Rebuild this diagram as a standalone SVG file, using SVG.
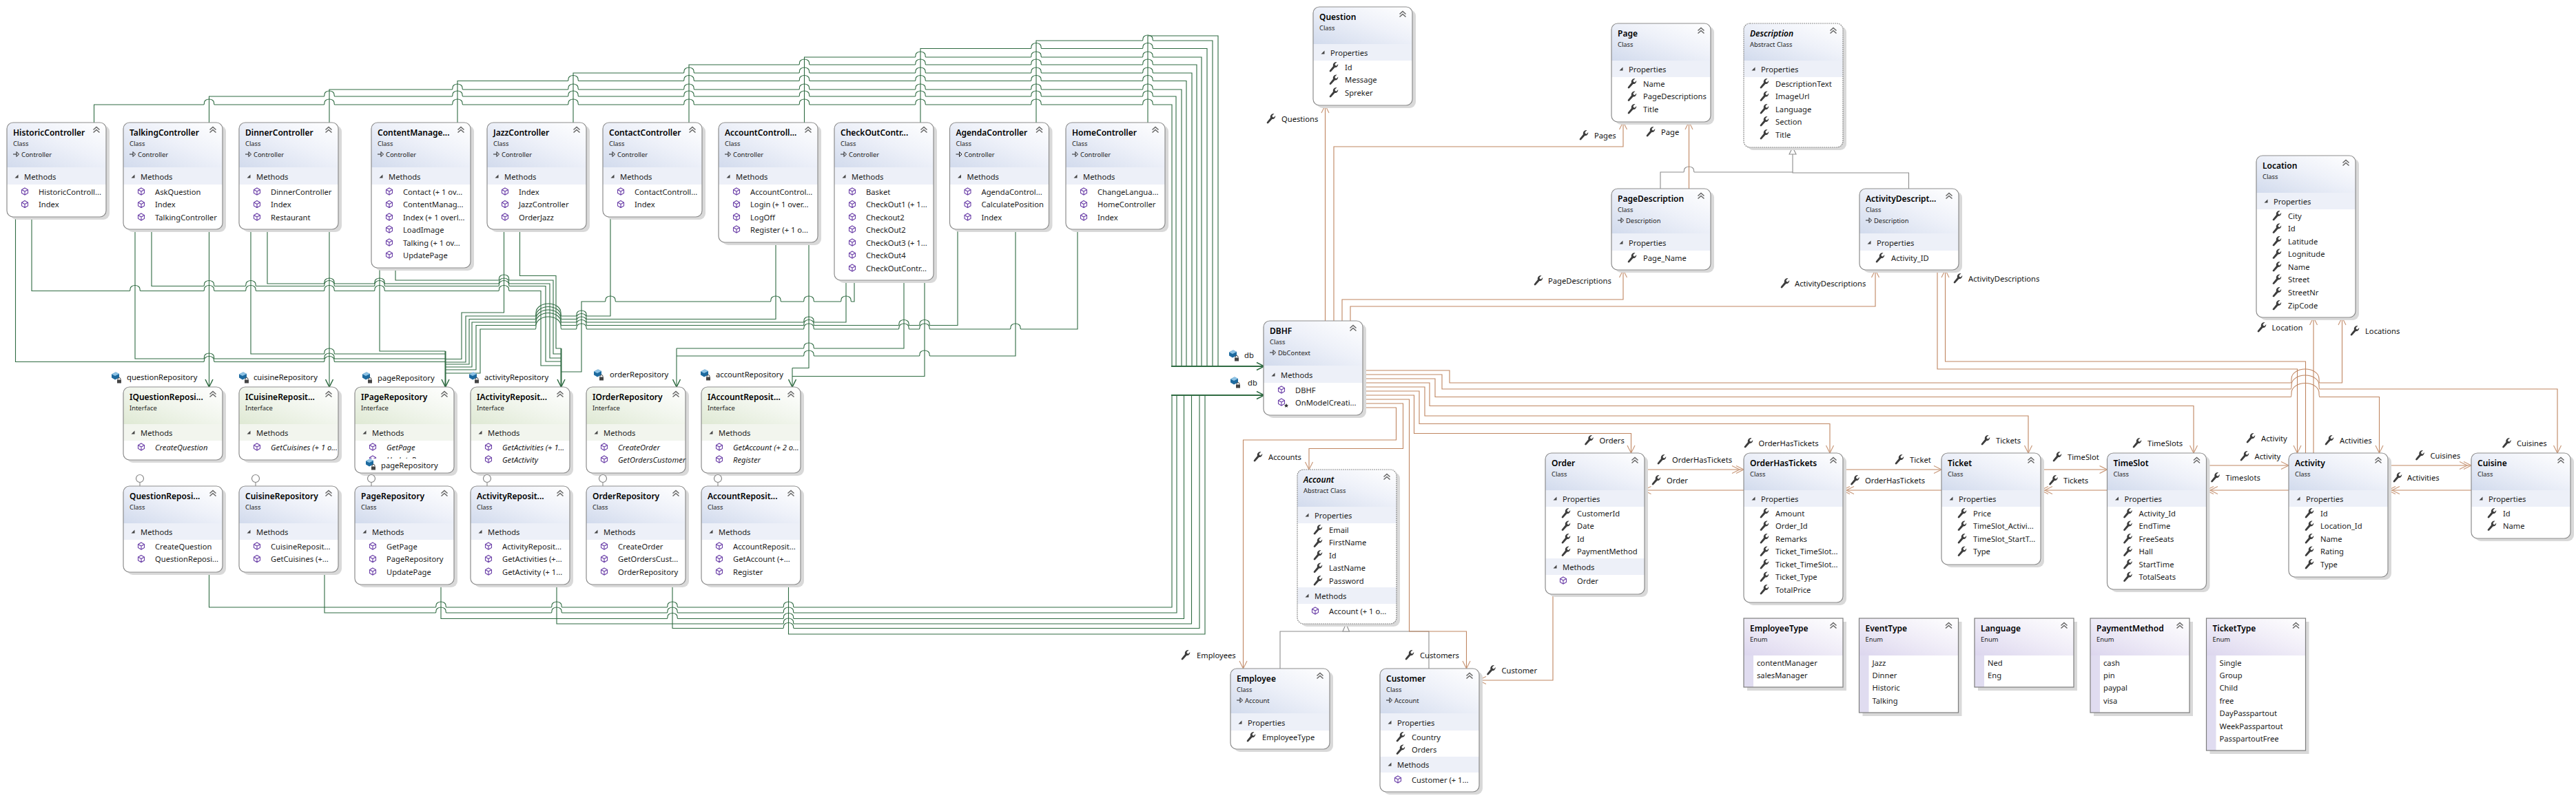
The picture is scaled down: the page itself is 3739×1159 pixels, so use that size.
<svg xmlns="http://www.w3.org/2000/svg" width="3739" height="1159" viewBox="0 0 3739 1159">
<style>
text{font-family:"Noto Sans","Open Sans","Liberation Sans",sans-serif;dominant-baseline:central;fill:#1a1a1a}
.t{font-size:12px;font-weight:600;fill:#000}
.ta{font-size:12px;font-weight:600;font-style:italic;fill:#000}
.s{font-size:9.4px;fill:#222}
.m{font-size:11.2px}
.mi{font-size:11.2px;font-style:italic}
.l{font-size:11.2px;fill:#111}
.sh{fill:#d9d9d9}
.b{fill:#fff}
.e{fill:none;stroke:#8d8d8d;stroke-width:1.2}
.ed{fill:none;stroke:#8d8d8d;stroke-width:1.2;stroke-dasharray:2 1}
.en{fill:none;stroke:#7d7d7d;stroke-width:1.2}
.hc{fill:url(#gc)}
.hi{fill:url(#gi)}
.he{fill:url(#ge)}
.bc{fill:#edf0f8}
.bi{fill:#f2f5ee}
.st{fill:#e0dcf0}
.g,.gb,.o,.y{fill:none}
.g{stroke:#2f6b42;stroke-width:1.1}
.gb{stroke:#2f6b42;stroke-width:2}
.o{stroke:#bf8560;stroke-width:1.1}
.y{stroke:#8c8c8c;stroke-width:1.1}
.tr{fill:#fff;stroke:#8c8c8c;stroke-width:1.1}
</style>
<defs>
<linearGradient id="gc" x1="0" y1="1" x2="1" y2="0"><stop offset="0" stop-color="#d2dbed"/><stop offset=".55" stop-color="#eef1f9"/><stop offset="1" stop-color="#fff"/></linearGradient>
<linearGradient id="gi" x1="0" y1="1" x2="1" y2="0"><stop offset="0" stop-color="#dfe9d4"/><stop offset=".55" stop-color="#f2f6ee"/><stop offset="1" stop-color="#fff"/></linearGradient>
<linearGradient id="ge" x1="0" y1="1" x2="1" y2="0"><stop offset="0" stop-color="#dcd6ee"/><stop offset=".55" stop-color="#f1eef8"/><stop offset="1" stop-color="#fff"/></linearGradient>
<path id="hn" d="M0 54V9a9 9 0 0 1 9-9H135a9 9 0 0 1 9 9V54Z"/>
<path id="hb" d="M0 65V9a9 9 0 0 1 9-9H135a9 9 0 0 1 9 9V65Z"/>
<g id="ch" fill="none" stroke="#666" stroke-width="1.5"><path d="M-4.5-.5L0-4.5L4.5-.5M-4.5 3.5L0-.5L4.5 3.5"/></g>
<path id="tri" d="M2.5-2.5V2.5H-2.5Z" fill="#444"/>
<g id="ba" fill="none" stroke="#222" stroke-width="1"><path d="M0 0H5M5-3.5L8.5 0L5 3.5Z"/></g>
<g id="mt" fill="#fff" stroke="#6b3fa8" stroke-width="1.1"><path d="M0-5L4.5-2.5V2.5L0 5L-4.5 2.5V-2.5ZM-4.5-2.5L0 0L4.5-2.5M0 0V5"/></g>
<path id="wr" fill="#3d3d3d" d="M5.5-7L2.5-4L3-2L5-1.5L7.2-4C7.5-1 5.5 1.2 2.5 1L-3 7C-4 8-6.2 7-5 5.2L0-1C-1-4 1.5-7.5 5.5-7Z"/>
<g id="fd"><path d="M-6-3.5L0-6.5L5-4V1.5L-1 4.5L-6 1.5Z" fill="#1d6a9f"/><path d="M-6-3.5L0-6.5L5-4L-1-1Z" fill="#8ec3e5"/><rect x="2" y="4.5" width="6" height="5" fill="#444"/><path d="M3 4.5V3.5a2 2 0 0 1 4 0V4.5" fill="none" stroke="#444"/></g>
<g id="lo"><path d="M0-11V0" stroke="#888" stroke-width="1.1" fill="none"/><circle cx="0" cy="-11" r="5.5" fill="#fff" stroke="#888" stroke-width="1.2"/></g>
<marker id="ag" viewBox="-14 -8 16 16" refX="0" refY="0" markerWidth="16" markerHeight="16" markerUnits="userSpaceOnUse" orient="auto"><path d="M-11-5.5L0 0L-11 5.5" fill="none" stroke="#2f6b42" stroke-width="1.5"/></marker>
<marker id="ao" viewBox="-14 -8 16 16" refX="0" refY="0" markerWidth="16" markerHeight="16" markerUnits="userSpaceOnUse" orient="auto"><path d="M-11-5.5L0 0L-11 5.5" fill="none" stroke="#c99a7c" stroke-width="1.2"/></marker>
<marker id="ad" viewBox="-20 -8 22 16" refX="0" refY="0" markerWidth="22" markerHeight="16" markerUnits="userSpaceOnUse" orient="auto"><path d="M-11-5.5L0 0L-11 5.5M-17-5.5L-6 0L-17 5.5" fill="none" stroke="#c99a7c" stroke-width="1.2"/></marker>
</defs>
<rect width="3739" height="1159" fill="#fff"/>
<g id="connectors">
<g id="controller-to-db">
<path class="g" d="M136.5 178V152H295.5q1 0 1-3a7 5 0 0 1 14 0q0 3 1 3H470q1 0 1-3a7 5 0 0 1 14 0q0 3 1 3H656q1 0 1-3a7 5 0 0 1 14 0q0 3 1 3H824q1 0 1-3a7 5 0 0 1 14 0q0 3 1 3H992q1 0 1-3a7 5 0 0 1 14 0q0 3 1 3H1159.5q1 0 1-3a7 5 0 0 1 14 0q0 3 1 3H1328q1 0 1-3a7 5 0 0 1 14 0q0 3 1 3H1496q1 0 1-3a7 5 0 0 1 14 0q0 3 1 3H1658q1 0 1-3a7 5 0 0 1 14 0q0 3 1 3H1701V532"/>
<path class="g" d="M303.5 178V140H470q1 0 1-3a7 5 0 0 1 14 0q0 3 1 3H656q1 0 1-3a7 5 0 0 1 14 0q0 3 1 3H824q1 0 1-3a7 5 0 0 1 14 0q0 3 1 3H992q1 0 1-3a7 5 0 0 1 14 0q0 3 1 3H1159.5q1 0 1-3a7 5 0 0 1 14 0q0 3 1 3H1328q1 0 1-3a7 5 0 0 1 14 0q0 3 1 3H1496q1 0 1-3a7 5 0 0 1 14 0q0 3 1 3H1658q1 0 1-3a7 5 0 0 1 14 0q0 3 1 3H1707V532"/>
<path class="g" d="M478 178V130H656q1 0 1-3a7 5 0 0 1 14 0q0 3 1 3H824q1 0 1-3a7 5 0 0 1 14 0q0 3 1 3H992q1 0 1-3a7 5 0 0 1 14 0q0 3 1 3H1159.5q1 0 1-3a7 5 0 0 1 14 0q0 3 1 3H1328q1 0 1-3a7 5 0 0 1 14 0q0 3 1 3H1496q1 0 1-3a7 5 0 0 1 14 0q0 3 1 3H1658q1 0 1-3a7 5 0 0 1 14 0q0 3 1 3H1715V532"/>
<path class="g" d="M664 178V117.5H824q1 0 1-3a7 5 0 0 1 14 0q0 3 1 3H992q1 0 1-3a7 5 0 0 1 14 0q0 3 1 3H1159.5q1 0 1-3a7 5 0 0 1 14 0q0 3 1 3H1328q1 0 1-3a7 5 0 0 1 14 0q0 3 1 3H1496q1 0 1-3a7 5 0 0 1 14 0q0 3 1 3H1658q1 0 1-3a7 5 0 0 1 14 0q0 3 1 3H1722V532"/>
<path class="g" d="M832 178V106H992q1 0 1-3a7 5 0 0 1 14 0q0 3 1 3H1159.5q1 0 1-3a7 5 0 0 1 14 0q0 3 1 3H1328q1 0 1-3a7 5 0 0 1 14 0q0 3 1 3H1496q1 0 1-3a7 5 0 0 1 14 0q0 3 1 3H1658q1 0 1-3a7 5 0 0 1 14 0q0 3 1 3H1730V532"/>
<path class="g" d="M1000 178V94H1159.5q1 0 1-3a7 5 0 0 1 14 0q0 3 1 3H1328q1 0 1-3a7 5 0 0 1 14 0q0 3 1 3H1496q1 0 1-3a7 5 0 0 1 14 0q0 3 1 3H1658q1 0 1-3a7 5 0 0 1 14 0q0 3 1 3H1737V532"/>
<path class="g" d="M1167.5 178V83H1328q1 0 1-3a7 5 0 0 1 14 0q0 3 1 3H1496q1 0 1-3a7 5 0 0 1 14 0q0 3 1 3H1658q1 0 1-3a7 5 0 0 1 14 0q0 3 1 3H1744V532"/>
<path class="g" d="M1336 178V70.5H1496q1 0 1-3a7 5 0 0 1 14 0q0 3 1 3H1658q1 0 1-3a7 5 0 0 1 14 0q0 3 1 3H1752V532"/>
<path class="g" d="M1504 178V59H1658q1 0 1-3a7 5 0 0 1 14 0q0 3 1 3H1760V532"/>
<path class="g" d="M1666 178V52H1768V532"/>
<path class="gb" marker-end="url(#ag)" d="M1700 532H1835"/>
</g>
<g id="controller-to-iactivity">
<path class="g" d="M46 315V422.5H188q1 0 1-3a7 5 0 0 1 14 0q0 3 1 3H295.5q1 0 1-3a7 5 0 0 1 14 0q0 3 1 3H356q1 0 1-3a7 5 0 0 1 14 0q0 3 1 3H470q1 0 1-3a7 5 0 0 1 14 0q0 3 1 3H543q1 0 1-3a7 5 0 0 1 14 0q0 3 1 3H723.5q1 0 1-3a7 5 0 0 1 14 0q0 3 1 3H785V531H814.5"/>
<path class="g" d="M220 333V415.5H295.5q1 0 1-3a7 5 0 0 1 14 0q0 3 1 3H356q1 0 1-3a7 5 0 0 1 14 0q0 3 1 3H470q1 0 1-3a7 5 0 0 1 14 0q0 3 1 3H543q1 0 1-3a7 5 0 0 1 14 0q0 3 1 3H723.5q1 0 1-3a7 5 0 0 1 14 0q0 3 1 3H792V525H814.5"/>
<path class="g" d="M388 333V412H470q1 0 1-3a7 5 0 0 1 14 0q0 3 1 3H543q1 0 1-3a7 5 0 0 1 14 0q0 3 1 3H723.5q1 0 1-3a7 5 0 0 1 14 0q0 3 1 3H798V520H814.5"/>
<path class="g" d="M574 389V407H723.5q1 0 1-3a7 5 0 0 1 14 0q0 3 1 3H803V514H814.5"/>
<path class="g" d="M754.5 333V400.5H807V506H814.5"/>
<path class="g" d="M814.5 540H844V438H878q1 0 1-3a7 5 0 0 1 14 0q0 3 1 3H1118q1 0 1-3a7 5 0 0 1 14 0q0 3 1 3H1166q1 0 1-3a7 5 0 0 1 14 0q0 3 1 3H1220q1 0 1-3a7 5 0 0 1 14 0q0 3 1 3H1240V407"/>
<path class="gb" marker-end="url(#ag)" d="M814.5 506V562"/>
</g>
<g id="controller-to-ipage">
<path class="g" d="M22.5 315V525.5H295.5q1 0 1-3a7 5 0 0 1 14 0q0 3 1 3H470q1 0 1-3a7 5 0 0 1 14 0q0 3 1 3H646.5"/>
<path class="g" d="M196 333V521H295.5q1 0 1-3a7 5 0 0 1 14 0q0 3 1 3H470q1 0 1-3a7 5 0 0 1 14 0q0 3 1 3H646.5"/>
<path class="g" d="M364 333V514H470q1 0 1-3a7 5 0 0 1 14 0q0 3 1 3H646.5"/>
<path class="g" d="M551 389V510H646.5"/>
<path class="g" d="M646.5 521.5H670V454H731.5V333"/>
<path class="g" d="M646.5 526H676V459H777q1 0 1-5a18 13 0 0 1 36 0q0 5 1 5H836q1 0 1-3a7 5 0 0 1 14 0q0 3 1 3H886V315"/>
<path class="g" d="M646.5 529H681V463.5H777q1 0 1-5a18 13 0 0 1 36 0q0 5 1 5H836q1 0 1-3a7 5 0 0 1 14 0q0 3 1 3H1126V352"/>
<path class="g" d="M646.5 533H685V468H777q1 0 1-5a18 13 0 0 1 36 0q0 5 1 5H836q1 0 1-3a7 5 0 0 1 14 0q0 3 1 3H1166q1 0 1-3a7 5 0 0 1 14 0q0 3 1 3H1228V407"/>
<path class="g" d="M646.5 537H691V472.5H777q1 0 1-5a18 13 0 0 1 36 0q0 5 1 5H836q1 0 1-3a7 5 0 0 1 14 0q0 3 1 3H1166q1 0 1-3a7 5 0 0 1 14 0q0 3 1 3H1304q1 0 1-3a7 5 0 0 1 14 0q0 3 1 3H1334q1 0 1-3a7 5 0 0 1 14 0q0 3 1 3H1390V333"/>
<path class="g" d="M646.5 542H697V478H777q1 0 1-5a18 13 0 0 1 36 0q0 5 1 5H836q1 0 1-3a7 5 0 0 1 14 0q0 3 1 3H1166q1 0 1-3a7 5 0 0 1 14 0q0 3 1 3H1304q1 0 1-3a7 5 0 0 1 14 0q0 3 1 3H1334q1 0 1-3a7 5 0 0 1 14 0q0 3 1 3H1466q1 0 1-3a7 5 0 0 1 14 0q0 3 1 3H1564V333"/>
<path class="gb" marker-end="url(#ag)" d="M646.5 510V562"/>
</g>
<g id="controller-to-others">
<path class="g" marker-end="url(#ag)" d="M303.5 333V562"/>
<path class="g" marker-end="url(#ag)" d="M478 333V562"/>
<path class="g" d="M982 506H1166q1 0 1-3a7 5 0 0 1 14 0q0 3 1 3H1312V407"/>
<path class="g" d="M982 517H1166q1 0 1-3a7 5 0 0 1 14 0q0 3 1 3H1334q1 0 1-3a7 5 0 0 1 14 0q0 3 1 3H1474V333"/>
<path class="g" marker-end="url(#ag)" d="M982 506V562"/>
<path class="g" d="M1174 352V534.5H1150"/>
<path class="g" d="M1150 546.5H1342V407"/>
<path class="g" marker-end="url(#ag)" d="M1150 534.5V562"/>
</g>
<g id="repository-to-db">
<path class="g" d="M303.5 831V882H632q1 0 1-3a7 5 0 0 1 14 0q0 3 1 3H800q1 0 1-3a7 5 0 0 1 14 0q0 3 1 3H968q1 0 1-3a7 5 0 0 1 14 0q0 3 1 3H1136.5q1 0 1-3a7 5 0 0 1 14 0q0 3 1 3H1701V574"/>
<path class="g" d="M471 831V890H632q1 0 1-3a7 5 0 0 1 14 0q0 3 1 3H800q1 0 1-3a7 5 0 0 1 14 0q0 3 1 3H968q1 0 1-3a7 5 0 0 1 14 0q0 3 1 3H1136.5q1 0 1-3a7 5 0 0 1 14 0q0 3 1 3H1708V574"/>
<path class="g" d="M640 849V898.5H968q1 0 1-3a7 5 0 0 1 14 0q0 3 1 3H1136.5q1 0 1-3a7 5 0 0 1 14 0q0 3 1 3H1718.5V574"/>
<path class="g" d="M808 849V906H1136.5q1 0 1-3a7 5 0 0 1 14 0q0 3 1 3H1729.5V574"/>
<path class="g" d="M976 849V912.5H1136.5q1 0 1-3a7 5 0 0 1 14 0q0 3 1 3H1741V574"/>
<path class="g" d="M1144.5 849V921H1749V574"/>
<path class="gb" marker-end="url(#ag)" d="M1700 574H1835"/>
</g>
<g id="inheritance">
<path class="y" d="M2410 274V250H2443.5q1 0 1-3a7 5 0 0 1 14 0q0 3 1 3H2602"/>
<path class="y" d="M2770.5 274V251H2602V224"/>
<polygon class="tr" points="2602,214 2597,224 2607,224"/>
<path class="y" d="M1858 971V917H2074V971"/>
<polygon class="tr" points="1953.7,906 1949,917 1958.5,917"/>
</g>
<g id="associations">
<path class="o" marker-end="url(#ao)" d="M1923.5 466V153"/>
<path class="o" marker-end="url(#ao)" d="M1936 466V213H2356V177"/>
<path class="o" marker-end="url(#ao)" d="M2451.5 274V177"/>
<path class="o" marker-end="url(#ao)" d="M1948 466V435H2356V392"/>
<path class="o" marker-end="url(#ao)" d="M1960 466V445H2722V392"/>
<path class="o" marker-end="url(#ao)" d="M3346.5 658V525H2823.5V392"/>
<path class="o" marker-end="url(#ao)" d="M2812 392V536H3334.5V658"/>
<path class="o" marker-end="url(#ao)" d="M3358 658V461"/>
<path class="o" marker-end="url(#ao)" d="M1978 538H2104V556H3325q1 0 1-6a20 14 0 0 1 40 0q0 6 1 6H3399.5V461"/>
<path class="o" marker-end="url(#ao)" d="M1978 544H2093V565H3325q1 0 1-6a20 14 0 0 1 40 0q0 6 1 6H3712V658"/>
<path class="o" marker-end="url(#ao)" d="M1978 550H2083V576.5H3325q1 0 1-6a20 14 0 0 1 40 0q0 6 1 6H3453.5V658"/>
<path class="o" marker-end="url(#ao)" d="M1978 556H2075V589.5H3184V658"/>
<path class="o" marker-end="url(#ao)" d="M1978 562H2068V604H2944V658"/>
<path class="o" marker-end="url(#ao)" d="M1978 568H2060V615.5H2656V658"/>
<path class="o" marker-end="url(#ao)" d="M1978 574H2052.5V629.5H2367.5V658"/>
<path class="o" marker-end="url(#ao)" d="M1978 580H2045.5V917H2128.5V971"/>
<path class="o" marker-end="url(#ao)" d="M1978 586H2036.5V651.5H1900V682"/>
<path class="o" marker-end="url(#ao)" d="M1978 592H2026.5V639H1804.5V971"/>
<path class="o" marker-end="url(#ad)" d="M2385.5 682H2531"/>
<path class="o" marker-end="url(#ao)" d="M2531 712H2385.5"/>
<path class="o" marker-end="url(#ao)" d="M2674 682H2818"/>
<path class="o" marker-end="url(#ad)" d="M2818 712H2674"/>
<path class="o" marker-end="url(#ao)" d="M2962 682H3058.5"/>
<path class="o" marker-end="url(#ad)" d="M3058.5 712H2962"/>
<path class="o" marker-end="url(#ao)" d="M3202 676H3322"/>
<path class="o" marker-end="url(#ad)" d="M3322 712H3202"/>
<path class="o" marker-end="url(#ad)" d="M3466 676H3587"/>
<path class="o" marker-end="url(#ad)" d="M3587 712H3466"/>
<path class="o" marker-end="url(#ao)" d="M2254 863V988H2146"/>
</g>
</g>
<g id="nodes">
<g id="HistoricController" transform="translate(10,178)"><rect class="sh" x="5" y="4" width="144" height="137" rx="9"/><rect class="b" width="144" height="137" rx="9"/><use href="#hb" class="hc"/><rect class="bc" y="65" width="144" height="25"/><rect class="e" width="144" height="137" rx="9"/><text class="t" x="9" y="14">HistoricController</text><use href="#ch" x="130" y="11"/><text class="s" x="9" y="30">Class</text><use href="#ba" x="9" y="46"/><text class="s" x="21" y="46">Controller</text><use href="#tri" x="14" y="78"/><text class="m" x="25" y="78">Methods</text><use href="#mt" x="26" y="100"/><text class="m" x="46" y="100">HistoricControll...</text><use href="#mt" x="26" y="118.5"/><text class="m" x="46" y="118.5">Index</text></g>
<g id="TalkingController" transform="translate(179,178)"><rect class="sh" x="5" y="4" width="144" height="155" rx="9"/><rect class="b" width="144" height="155" rx="9"/><use href="#hb" class="hc"/><rect class="bc" y="65" width="144" height="25"/><rect class="e" width="144" height="155" rx="9"/><text class="t" x="9" y="14">TalkingController</text><use href="#ch" x="130" y="11"/><text class="s" x="9" y="30">Class</text><use href="#ba" x="9" y="46"/><text class="s" x="21" y="46">Controller</text><use href="#tri" x="14" y="78"/><text class="m" x="25" y="78">Methods</text><use href="#mt" x="26" y="100"/><text class="m" x="46" y="100">AskQuestion</text><use href="#mt" x="26" y="118.5"/><text class="m" x="46" y="118.5">Index</text><use href="#mt" x="26" y="137"/><text class="m" x="46" y="137">TalkingController</text></g>
<g id="DinnerController" transform="translate(347,178)"><rect class="sh" x="5" y="4" width="144" height="155" rx="9"/><rect class="b" width="144" height="155" rx="9"/><use href="#hb" class="hc"/><rect class="bc" y="65" width="144" height="25"/><rect class="e" width="144" height="155" rx="9"/><text class="t" x="9" y="14">DinnerController</text><use href="#ch" x="130" y="11"/><text class="s" x="9" y="30">Class</text><use href="#ba" x="9" y="46"/><text class="s" x="21" y="46">Controller</text><use href="#tri" x="14" y="78"/><text class="m" x="25" y="78">Methods</text><use href="#mt" x="26" y="100"/><text class="m" x="46" y="100">DinnerController</text><use href="#mt" x="26" y="118.5"/><text class="m" x="46" y="118.5">Index</text><use href="#mt" x="26" y="137"/><text class="m" x="46" y="137">Restaurant</text></g>
<g id="ContentManagerController" transform="translate(539,178)"><rect class="sh" x="5" y="4" width="144" height="211" rx="9"/><rect class="b" width="144" height="211" rx="9"/><use href="#hb" class="hc"/><rect class="bc" y="65" width="144" height="25"/><rect class="e" width="144" height="211" rx="9"/><text class="t" x="9" y="14">ContentManage...</text><use href="#ch" x="130" y="11"/><text class="s" x="9" y="30">Class</text><use href="#ba" x="9" y="46"/><text class="s" x="21" y="46">Controller</text><use href="#tri" x="14" y="78"/><text class="m" x="25" y="78">Methods</text><use href="#mt" x="26" y="100"/><text class="m" x="46" y="100">Contact (+ 1 ov...</text><use href="#mt" x="26" y="118.5"/><text class="m" x="46" y="118.5">ContentManag...</text><use href="#mt" x="26" y="137"/><text class="m" x="46" y="137">Index (+ 1 overl...</text><use href="#mt" x="26" y="155"/><text class="m" x="46" y="155">LoadImage</text><use href="#mt" x="26" y="174"/><text class="m" x="46" y="174">Talking (+ 1 ov...</text><use href="#mt" x="26" y="192"/><text class="m" x="46" y="192">UpdatePage</text></g>
<g id="JazzController" transform="translate(707,178)"><rect class="sh" x="5" y="4" width="144" height="155" rx="9"/><rect class="b" width="144" height="155" rx="9"/><use href="#hb" class="hc"/><rect class="bc" y="65" width="144" height="25"/><rect class="e" width="144" height="155" rx="9"/><text class="t" x="9" y="14">JazzController</text><use href="#ch" x="130" y="11"/><text class="s" x="9" y="30">Class</text><use href="#ba" x="9" y="46"/><text class="s" x="21" y="46">Controller</text><use href="#tri" x="14" y="78"/><text class="m" x="25" y="78">Methods</text><use href="#mt" x="26" y="100"/><text class="m" x="46" y="100">Index</text><use href="#mt" x="26" y="118.5"/><text class="m" x="46" y="118.5">JazzController</text><use href="#mt" x="26" y="137"/><text class="m" x="46" y="137">OrderJazz</text></g>
<g id="ContactController" transform="translate(875,178)"><rect class="sh" x="5" y="4" width="144" height="137" rx="9"/><rect class="b" width="144" height="137" rx="9"/><use href="#hb" class="hc"/><rect class="bc" y="65" width="144" height="25"/><rect class="e" width="144" height="137" rx="9"/><text class="t" x="9" y="14">ContactController</text><use href="#ch" x="130" y="11"/><text class="s" x="9" y="30">Class</text><use href="#ba" x="9" y="46"/><text class="s" x="21" y="46">Controller</text><use href="#tri" x="14" y="78"/><text class="m" x="25" y="78">Methods</text><use href="#mt" x="26" y="100"/><text class="m" x="46" y="100">ContactControll...</text><use href="#mt" x="26" y="118.5"/><text class="m" x="46" y="118.5">Index</text></g>
<g id="AccountController" transform="translate(1043,178)"><rect class="sh" x="5" y="4" width="144" height="174" rx="9"/><rect class="b" width="144" height="174" rx="9"/><use href="#hb" class="hc"/><rect class="bc" y="65" width="144" height="25"/><rect class="e" width="144" height="174" rx="9"/><text class="t" x="9" y="14">AccountControll...</text><use href="#ch" x="130" y="11"/><text class="s" x="9" y="30">Class</text><use href="#ba" x="9" y="46"/><text class="s" x="21" y="46">Controller</text><use href="#tri" x="14" y="78"/><text class="m" x="25" y="78">Methods</text><use href="#mt" x="26" y="100"/><text class="m" x="46" y="100">AccountControl...</text><use href="#mt" x="26" y="118.5"/><text class="m" x="46" y="118.5">Login (+ 1 over...</text><use href="#mt" x="26" y="137"/><text class="m" x="46" y="137">LogOff</text><use href="#mt" x="26" y="155"/><text class="m" x="46" y="155">Register (+ 1 o...</text></g>
<g id="CheckOutController" transform="translate(1211,178)"><rect class="sh" x="5" y="4" width="144" height="229" rx="9"/><rect class="b" width="144" height="229" rx="9"/><use href="#hb" class="hc"/><rect class="bc" y="65" width="144" height="25"/><rect class="e" width="144" height="229" rx="9"/><text class="t" x="9" y="14">CheckOutContr...</text><use href="#ch" x="130" y="11"/><text class="s" x="9" y="30">Class</text><use href="#ba" x="9" y="46"/><text class="s" x="21" y="46">Controller</text><use href="#tri" x="14" y="78"/><text class="m" x="25" y="78">Methods</text><use href="#mt" x="26" y="100"/><text class="m" x="46" y="100">Basket</text><use href="#mt" x="26" y="118.5"/><text class="m" x="46" y="118.5">CheckOut1 (+ 1...</text><use href="#mt" x="26" y="137"/><text class="m" x="46" y="137">Checkout2</text><use href="#mt" x="26" y="155"/><text class="m" x="46" y="155">CheckOut2</text><use href="#mt" x="26" y="174"/><text class="m" x="46" y="174">CheckOut3 (+ 1...</text><use href="#mt" x="26" y="192"/><text class="m" x="46" y="192">CheckOut4</text><use href="#mt" x="26" y="211"/><text class="m" x="46" y="211">CheckOutContr...</text></g>
<g id="AgendaController" transform="translate(1378.5,178)"><rect class="sh" x="5" y="4" width="144" height="155" rx="9"/><rect class="b" width="144" height="155" rx="9"/><use href="#hb" class="hc"/><rect class="bc" y="65" width="144" height="25"/><rect class="e" width="144" height="155" rx="9"/><text class="t" x="9" y="14">AgendaController</text><use href="#ch" x="130" y="11"/><text class="s" x="9" y="30">Class</text><use href="#ba" x="9" y="46"/><text class="s" x="21" y="46">Controller</text><use href="#tri" x="14" y="78"/><text class="m" x="25" y="78">Methods</text><use href="#mt" x="26" y="100"/><text class="m" x="46" y="100">AgendaControl...</text><use href="#mt" x="26" y="118.5"/><text class="m" x="46" y="118.5">CalculatePosition</text><use href="#mt" x="26" y="137"/><text class="m" x="46" y="137">Index</text></g>
<g id="HomeController" transform="translate(1547,178)"><rect class="sh" x="5" y="4" width="144" height="155" rx="9"/><rect class="b" width="144" height="155" rx="9"/><use href="#hb" class="hc"/><rect class="bc" y="65" width="144" height="25"/><rect class="e" width="144" height="155" rx="9"/><text class="t" x="9" y="14">HomeController</text><use href="#ch" x="130" y="11"/><text class="s" x="9" y="30">Class</text><use href="#ba" x="9" y="46"/><text class="s" x="21" y="46">Controller</text><use href="#tri" x="14" y="78"/><text class="m" x="25" y="78">Methods</text><use href="#mt" x="26" y="100"/><text class="m" x="46" y="100">ChangeLangua...</text><use href="#mt" x="26" y="118.5"/><text class="m" x="46" y="118.5">HomeController</text><use href="#mt" x="26" y="137"/><text class="m" x="46" y="137">Index</text></g>

<g id="IQuestionRepository" transform="translate(179,562)"><rect class="sh" x="5" y="4" width="144" height="106" rx="9"/><rect class="b" width="144" height="106" rx="9"/><use href="#hn" class="hi"/><rect class="bi" y="54" width="144" height="24"/><rect class="e" width="144" height="106" rx="9"/><text class="t" x="9" y="14">IQuestionReposi...</text><use href="#ch" x="130" y="11"/><text class="s" x="9" y="30">Interface</text><use href="#tri" x="14" y="66"/><text class="m" x="25" y="66">Methods</text><use href="#mt" x="26" y="87"/><text class="mi" x="46" y="87">CreateQuestion</text></g>
<g id="ICuisineRepository" transform="translate(347,562)"><rect class="sh" x="5" y="4" width="144" height="106" rx="9"/><rect class="b" width="144" height="106" rx="9"/><use href="#hn" class="hi"/><rect class="bi" y="54" width="144" height="24"/><rect class="e" width="144" height="106" rx="9"/><text class="t" x="9" y="14">ICuisineReposit...</text><use href="#ch" x="130" y="11"/><text class="s" x="9" y="30">Interface</text><use href="#tri" x="14" y="66"/><text class="m" x="25" y="66">Methods</text><use href="#mt" x="26" y="87"/><text class="mi" x="46" y="87">GetCuisines (+ 1 o...</text></g>
<g id="IPageRepository" transform="translate(515,562)"><rect class="sh" x="5" y="4" width="144" height="125" rx="9"/><rect class="b" width="144" height="125" rx="9"/><use href="#hn" class="hi"/><rect class="bi" y="54" width="144" height="24"/><rect class="e" width="144" height="125" rx="9"/><text class="t" x="9" y="14">IPageRepository</text><use href="#ch" x="130" y="11"/><text class="s" x="9" y="30">Interface</text><use href="#tri" x="14" y="66"/><text class="m" x="25" y="66">Methods</text><use href="#mt" x="26" y="87"/><text class="mi" x="46" y="87">GetPage</text><use href="#mt" x="26" y="105"/><text class="mi" x="46" y="105">UpdatePage</text></g>
<g id="IActivityRepository" transform="translate(683,562)"><rect class="sh" x="5" y="4" width="144" height="125" rx="9"/><rect class="b" width="144" height="125" rx="9"/><use href="#hn" class="hi"/><rect class="bi" y="54" width="144" height="24"/><rect class="e" width="144" height="125" rx="9"/><text class="t" x="9" y="14">IActivityReposit...</text><use href="#ch" x="130" y="11"/><text class="s" x="9" y="30">Interface</text><use href="#tri" x="14" y="66"/><text class="m" x="25" y="66">Methods</text><use href="#mt" x="26" y="87"/><text class="mi" x="46" y="87">GetActivities (+ 1...</text><use href="#mt" x="26" y="105"/><text class="mi" x="46" y="105">GetActivity</text></g>
<g id="IOrderRepository" transform="translate(851,562)"><rect class="sh" x="5" y="4" width="144" height="125" rx="9"/><rect class="b" width="144" height="125" rx="9"/><use href="#hn" class="hi"/><rect class="bi" y="54" width="144" height="24"/><rect class="e" width="144" height="125" rx="9"/><text class="t" x="9" y="14">IOrderRepository</text><use href="#ch" x="130" y="11"/><text class="s" x="9" y="30">Interface</text><use href="#tri" x="14" y="66"/><text class="m" x="25" y="66">Methods</text><use href="#mt" x="26" y="87"/><text class="mi" x="46" y="87">CreateOrder</text><use href="#mt" x="26" y="105"/><text class="mi" x="46" y="105">GetOrdersCustomer</text></g>
<g id="IAccountRepository" transform="translate(1018,562)"><rect class="sh" x="5" y="4" width="144" height="125" rx="9"/><rect class="b" width="144" height="125" rx="9"/><use href="#hn" class="hi"/><rect class="bi" y="54" width="144" height="24"/><rect class="e" width="144" height="125" rx="9"/><text class="t" x="9" y="14">IAccountReposit...</text><use href="#ch" x="130" y="11"/><text class="s" x="9" y="30">Interface</text><use href="#tri" x="14" y="66"/><text class="m" x="25" y="66">Methods</text><use href="#mt" x="26" y="87"/><text class="mi" x="46" y="87">GetAccount (+ 2 o...</text><use href="#mt" x="26" y="105"/><text class="mi" x="46" y="105">Register</text></g>

<g id="QuestionRepository" transform="translate(179,706)"><use href="#lo" x="24"/><rect class="sh" x="5" y="4" width="144" height="125" rx="9"/><rect class="b" width="144" height="125" rx="9"/><use href="#hn" class="hc"/><rect class="bc" y="54" width="144" height="24"/><rect class="e" width="144" height="125" rx="9"/><text class="t" x="9" y="14">QuestionReposi...</text><use href="#ch" x="130" y="11"/><text class="s" x="9" y="30">Class</text><use href="#tri" x="14" y="66"/><text class="m" x="25" y="66">Methods</text><use href="#mt" x="26" y="87"/><text class="m" x="46" y="87">CreateQuestion</text><use href="#mt" x="26" y="105.5"/><text class="m" x="46" y="105.5">QuestionReposi...</text></g>
<g id="CuisineRepository" transform="translate(347,706)"><use href="#lo" x="24"/><rect class="sh" x="5" y="4" width="144" height="125" rx="9"/><rect class="b" width="144" height="125" rx="9"/><use href="#hn" class="hc"/><rect class="bc" y="54" width="144" height="24"/><rect class="e" width="144" height="125" rx="9"/><text class="t" x="9" y="14">CuisineRepository</text><use href="#ch" x="130" y="11"/><text class="s" x="9" y="30">Class</text><use href="#tri" x="14" y="66"/><text class="m" x="25" y="66">Methods</text><use href="#mt" x="26" y="87"/><text class="m" x="46" y="87">CuisineReposit...</text><use href="#mt" x="26" y="105.5"/><text class="m" x="46" y="105.5">GetCuisines (+...</text></g>
<g id="PageRepository" transform="translate(515,706)"><use href="#lo" x="24"/><rect class="sh" x="5" y="4" width="144" height="143" rx="9"/><rect class="b" width="144" height="143" rx="9"/><use href="#hn" class="hc"/><rect class="bc" y="54" width="144" height="24"/><rect class="e" width="144" height="143" rx="9"/><text class="t" x="9" y="14">PageRepository</text><use href="#ch" x="130" y="11"/><text class="s" x="9" y="30">Class</text><use href="#tri" x="14" y="66"/><text class="m" x="25" y="66">Methods</text><use href="#mt" x="26" y="87"/><text class="m" x="46" y="87">GetPage</text><use href="#mt" x="26" y="105.5"/><text class="m" x="46" y="105.5">PageRepository</text><use href="#mt" x="26" y="124"/><text class="m" x="46" y="124">UpdatePage</text></g>
<g id="ActivityRepository" transform="translate(683,706)"><use href="#lo" x="24"/><rect class="sh" x="5" y="4" width="144" height="143" rx="9"/><rect class="b" width="144" height="143" rx="9"/><use href="#hn" class="hc"/><rect class="bc" y="54" width="144" height="24"/><rect class="e" width="144" height="143" rx="9"/><text class="t" x="9" y="14">ActivityReposit...</text><use href="#ch" x="130" y="11"/><text class="s" x="9" y="30">Class</text><use href="#tri" x="14" y="66"/><text class="m" x="25" y="66">Methods</text><use href="#mt" x="26" y="87"/><text class="m" x="46" y="87">ActivityReposit...</text><use href="#mt" x="26" y="105.5"/><text class="m" x="46" y="105.5">GetActivities (+...</text><use href="#mt" x="26" y="124"/><text class="m" x="46" y="124">GetActivity (+ 1...</text></g>
<g id="OrderRepository" transform="translate(851,706)"><use href="#lo" x="24"/><rect class="sh" x="5" y="4" width="144" height="143" rx="9"/><rect class="b" width="144" height="143" rx="9"/><use href="#hn" class="hc"/><rect class="bc" y="54" width="144" height="24"/><rect class="e" width="144" height="143" rx="9"/><text class="t" x="9" y="14">OrderRepository</text><use href="#ch" x="130" y="11"/><text class="s" x="9" y="30">Class</text><use href="#tri" x="14" y="66"/><text class="m" x="25" y="66">Methods</text><use href="#mt" x="26" y="87"/><text class="m" x="46" y="87">CreateOrder</text><use href="#mt" x="26" y="105.5"/><text class="m" x="46" y="105.5">GetOrdersCust...</text><use href="#mt" x="26" y="124"/><text class="m" x="46" y="124">OrderRepository</text></g>
<g id="AccountRepository" transform="translate(1018,706)"><use href="#lo" x="24"/><rect class="sh" x="5" y="4" width="144" height="143" rx="9"/><rect class="b" width="144" height="143" rx="9"/><use href="#hn" class="hc"/><rect class="bc" y="54" width="144" height="24"/><rect class="e" width="144" height="143" rx="9"/><text class="t" x="9" y="14">AccountReposit...</text><use href="#ch" x="130" y="11"/><text class="s" x="9" y="30">Class</text><use href="#tri" x="14" y="66"/><text class="m" x="25" y="66">Methods</text><use href="#mt" x="26" y="87"/><text class="m" x="46" y="87">AccountReposit...</text><use href="#mt" x="26" y="105.5"/><text class="m" x="46" y="105.5">GetAccount (+...</text><use href="#mt" x="26" y="124"/><text class="m" x="46" y="124">Register</text></g>

<g id="DBHF" transform="translate(1834,466)"><rect class="sh" x="5" y="4" width="144" height="137" rx="9"/><rect class="b" width="144" height="137" rx="9"/><use href="#hb" class="hc"/><rect class="bc" y="65" width="144" height="25"/><rect class="e" width="144" height="137" rx="9"/><text class="t" x="9" y="14">DBHF</text><use href="#ch" x="130" y="11"/><text class="s" x="9" y="30">Class</text><use href="#ba" x="9" y="46"/><text class="s" x="21" y="46">DbContext</text><use href="#tri" x="14" y="78"/><text class="m" x="25" y="78">Methods</text><use href="#mt" x="26" y="100"/><text class="m" x="46" y="100">DBHF</text><use href="#mt" x="26" y="118"/><path d="M33 120l1 2 2 .3-1.500 1.400.4 2-1.900-1-1.900 1 .4-2-1.500-1.400 2-.3Z" fill="#333"/><text class="m" x="46" y="118">OnModelCreati...</text></g>
<g id="Question" transform="translate(1906,10)"><rect class="sh" x="5" y="4" width="144" height="143" rx="9"/><rect class="b" width="144" height="143" rx="9"/><use href="#hn" class="hc"/><rect class="bc" y="54" width="144" height="24"/><rect class="e" width="144" height="143" rx="9"/><text class="t" x="9" y="14">Question</text><use href="#ch" x="130" y="11"/><text class="s" x="9" y="30">Class</text><use href="#tri" x="14" y="66"/><text class="m" x="25" y="66">Properties</text><use href="#wr" x="29" y="87"/><text class="m" x="46" y="87">Id</text><use href="#wr" x="29" y="105.500"/><text class="m" x="46" y="105.500">Message</text><use href="#wr" x="29" y="124"/><text class="m" x="46" y="124">Spreker</text></g>
<g id="Page" transform="translate(2339,34)"><rect class="sh" x="5" y="4" width="144" height="143" rx="9"/><rect class="b" width="144" height="143" rx="9"/><use href="#hn" class="hc"/><rect class="bc" y="54" width="144" height="24"/><rect class="e" width="144" height="143" rx="9"/><text class="t" x="9" y="14">Page</text><use href="#ch" x="130" y="11"/><text class="s" x="9" y="30">Class</text><use href="#tri" x="14" y="66"/><text class="m" x="25" y="66">Properties</text><use href="#wr" x="29" y="87"/><text class="m" x="46" y="87">Name</text><use href="#wr" x="29" y="105.500"/><text class="m" x="46" y="105.500">PageDescriptions</text><use href="#wr" x="29" y="124"/><text class="m" x="46" y="124">Title</text></g>
<g id="Description" transform="translate(2531,34)"><rect class="sh" x="5" y="4" width="144" height="180" rx="9"/><rect class="b" width="144" height="180" rx="9"/><use href="#hn" class="hc"/><rect class="bc" y="54" width="144" height="24"/><rect class="ed" width="144" height="180" rx="9"/><text class="ta" x="9" y="14">Description</text><use href="#ch" x="130" y="11"/><text class="s" x="9" y="30">Abstract Class</text><use href="#tri" x="14" y="66"/><text class="m" x="25" y="66">Properties</text><use href="#wr" x="29" y="87"/><text class="m" x="46" y="87">DescriptionText</text><use href="#wr" x="29" y="105.500"/><text class="m" x="46" y="105.500">ImageUrl</text><use href="#wr" x="29" y="124"/><text class="m" x="46" y="124">Language</text><use href="#wr" x="29" y="142"/><text class="m" x="46" y="142">Section</text><use href="#wr" x="29" y="161"/><text class="m" x="46" y="161">Title</text></g>
<g id="PageDescription" transform="translate(2339,274)"><rect class="sh" x="5" y="4" width="144" height="118" rx="9"/><rect class="b" width="144" height="118" rx="9"/><use href="#hb" class="hc"/><rect class="bc" y="65" width="144" height="25"/><rect class="e" width="144" height="118" rx="9"/><text class="t" x="9" y="14">PageDescription</text><use href="#ch" x="130" y="11"/><text class="s" x="9" y="30">Class</text><use href="#ba" x="9" y="46"/><text class="s" x="21" y="46">Description</text><use href="#tri" x="14" y="78"/><text class="m" x="25" y="78">Properties</text><use href="#wr" x="29" y="100"/><text class="m" x="46" y="100">Page_Name</text></g>
<g id="ActivityDescription" transform="translate(2699,274)"><rect class="sh" x="5" y="4" width="144" height="118" rx="9"/><rect class="b" width="144" height="118" rx="9"/><use href="#hb" class="hc"/><rect class="bc" y="65" width="144" height="25"/><rect class="e" width="144" height="118" rx="9"/><text class="t" x="9" y="14">ActivityDescript...</text><use href="#ch" x="130" y="11"/><text class="s" x="9" y="30">Class</text><use href="#ba" x="9" y="46"/><text class="s" x="21" y="46">Description</text><use href="#tri" x="14" y="78"/><text class="m" x="25" y="78">Properties</text><use href="#wr" x="29" y="100"/><text class="m" x="46" y="100">Activity_ID</text></g>
<g id="Location" transform="translate(3275,226)"><rect class="sh" x="5" y="4" width="144" height="235" rx="9"/><rect class="b" width="144" height="235" rx="9"/><use href="#hn" class="hc"/><rect class="bc" y="54" width="144" height="24"/><rect class="e" width="144" height="235" rx="9"/><text class="t" x="9" y="14">Location</text><use href="#ch" x="130" y="11"/><text class="s" x="9" y="30">Class</text><use href="#tri" x="14" y="66"/><text class="m" x="25" y="66">Properties</text><use href="#wr" x="29" y="87"/><text class="m" x="46" y="87">City</text><use href="#wr" x="29" y="105.500"/><text class="m" x="46" y="105.500">Id</text><use href="#wr" x="29" y="124"/><text class="m" x="46" y="124">Latitude</text><use href="#wr" x="29" y="142.500"/><text class="m" x="46" y="142.500">Lognitude</text><use href="#wr" x="29" y="161"/><text class="m" x="46" y="161">Name</text><use href="#wr" x="29" y="179.500"/><text class="m" x="46" y="179.500">Street</text><use href="#wr" x="29" y="198"/><text class="m" x="46" y="198">StreetNr</text><use href="#wr" x="29" y="217"/><text class="m" x="46" y="217">ZipCode</text></g>
<g id="Account" transform="translate(1883,682)"><rect class="sh" x="5" y="4" width="144" height="224" rx="9"/><rect class="b" width="144" height="224" rx="9"/><use href="#hn" class="hc"/><rect class="bc" y="54" width="144" height="24"/><rect class="bc" y="171" width="144" height="24"/><rect class="ed" width="144" height="224" rx="9"/><text class="ta" x="9" y="14">Account</text><use href="#ch" x="130" y="11"/><text class="s" x="9" y="30">Abstract Class</text><use href="#tri" x="14" y="66"/><text class="m" x="25" y="66">Properties</text><use href="#wr" x="29" y="87"/><text class="m" x="46" y="87">Email</text><use href="#wr" x="29" y="105.500"/><text class="m" x="46" y="105.500">FirstName</text><use href="#wr" x="29" y="124"/><text class="m" x="46" y="124">Id</text><use href="#wr" x="29" y="142.500"/><text class="m" x="46" y="142.500">LastName</text><use href="#wr" x="29" y="161"/><text class="m" x="46" y="161">Password</text><use href="#tri" x="14" y="183"/><text class="m" x="25" y="183">Methods</text><use href="#mt" x="26" y="205"/><text class="m" x="46" y="205">Account (+ 1 o...</text></g>
<g id="Employee" transform="translate(1786,971)"><rect class="sh" x="5" y="4" width="144" height="117" rx="9"/><rect class="b" width="144" height="117" rx="9"/><use href="#hb" class="hc"/><rect class="bc" y="65" width="144" height="25"/><rect class="e" width="144" height="117" rx="9"/><text class="t" x="9" y="14">Employee</text><use href="#ch" x="130" y="11"/><text class="s" x="9" y="30">Class</text><use href="#ba" x="9" y="46"/><text class="s" x="21" y="46">Account</text><use href="#tri" x="14" y="78"/><text class="m" x="25" y="78">Properties</text><use href="#wr" x="29" y="99"/><text class="m" x="46" y="99">EmployeeType</text></g>
<g id="Customer" transform="translate(2003,971)"><rect class="sh" x="5" y="4" width="144" height="179" rx="9"/><rect class="b" width="144" height="179" rx="9"/><use href="#hb" class="hc"/><rect class="bc" y="65" width="144" height="25"/><rect class="bc" y="128" width="144" height="23"/><rect class="e" width="144" height="179" rx="9"/><text class="t" x="9" y="14">Customer</text><use href="#ch" x="130" y="11"/><text class="s" x="9" y="30">Class</text><use href="#ba" x="9" y="46"/><text class="s" x="21" y="46">Account</text><use href="#tri" x="14" y="78"/><text class="m" x="25" y="78">Properties</text><use href="#wr" x="29" y="99"/><text class="m" x="46" y="99">Country</text><use href="#wr" x="29" y="117.500"/><text class="m" x="46" y="117.500">Orders</text><use href="#tri" x="14" y="139"/><text class="m" x="25" y="139">Methods</text><use href="#mt" x="26" y="161"/><text class="m" x="46" y="161">Customer (+ 1...</text></g>
<g id="Order" transform="translate(2243,658)"><rect class="sh" x="5" y="4" width="144" height="205" rx="9"/><rect class="b" width="144" height="205" rx="9"/><use href="#hn" class="hc"/><rect class="bc" y="54" width="144" height="24"/><rect class="bc" y="153" width="144" height="24"/><rect class="e" width="144" height="205" rx="9"/><text class="t" x="9" y="14">Order</text><use href="#ch" x="130" y="11"/><text class="s" x="9" y="30">Class</text><use href="#tri" x="14" y="66"/><text class="m" x="25" y="66">Properties</text><use href="#wr" x="29" y="87"/><text class="m" x="46" y="87">CustomerId</text><use href="#wr" x="29" y="105.500"/><text class="m" x="46" y="105.500">Date</text><use href="#wr" x="29" y="124"/><text class="m" x="46" y="124">Id</text><use href="#wr" x="29" y="142.500"/><text class="m" x="46" y="142.500">PaymentMethod</text><use href="#tri" x="14" y="165"/><text class="m" x="25" y="165">Methods</text><use href="#mt" x="26" y="185"/><text class="m" x="46" y="185">Order</text></g>
<g id="OrderHasTickets" transform="translate(2531,658)"><rect class="sh" x="5" y="4" width="144" height="217" rx="9"/><rect class="b" width="144" height="217" rx="9"/><use href="#hn" class="hc"/><rect class="bc" y="54" width="144" height="24"/><rect class="e" width="144" height="217" rx="9"/><text class="t" x="9" y="14">OrderHasTickets</text><use href="#ch" x="130" y="11"/><text class="s" x="9" y="30">Class</text><use href="#tri" x="14" y="66"/><text class="m" x="25" y="66">Properties</text><use href="#wr" x="29" y="87"/><text class="m" x="46" y="87">Amount</text><use href="#wr" x="29" y="105.500"/><text class="m" x="46" y="105.500">Order_Id</text><use href="#wr" x="29" y="124"/><text class="m" x="46" y="124">Remarks</text><use href="#wr" x="29" y="142.500"/><text class="m" x="46" y="142.500">Ticket_TimeSlot...</text><use href="#wr" x="29" y="161"/><text class="m" x="46" y="161">Ticket_TimeSlot...</text><use href="#wr" x="29" y="179.500"/><text class="m" x="46" y="179.500">Ticket_Type</text><use href="#wr" x="29" y="198"/><text class="m" x="46" y="198">TotalPrice</text></g>
<g id="Ticket" transform="translate(2818,658)"><rect class="sh" x="5" y="4" width="144" height="162" rx="9"/><rect class="b" width="144" height="162" rx="9"/><use href="#hn" class="hc"/><rect class="bc" y="54" width="144" height="24"/><rect class="e" width="144" height="162" rx="9"/><text class="t" x="9" y="14">Ticket</text><use href="#ch" x="130" y="11"/><text class="s" x="9" y="30">Class</text><use href="#tri" x="14" y="66"/><text class="m" x="25" y="66">Properties</text><use href="#wr" x="29" y="87"/><text class="m" x="46" y="87">Price</text><use href="#wr" x="29" y="105.500"/><text class="m" x="46" y="105.500">TimeSlot_Activi...</text><use href="#wr" x="29" y="124"/><text class="m" x="46" y="124">TimeSlot_StartT...</text><use href="#wr" x="29" y="142.500"/><text class="m" x="46" y="142.500">Type</text></g>
<g id="TimeSlot" transform="translate(3058.5,658)"><rect class="sh" x="5" y="4" width="144" height="198" rx="9"/><rect class="b" width="144" height="198" rx="9"/><use href="#hn" class="hc"/><rect class="bc" y="54" width="144" height="24"/><rect class="e" width="144" height="198" rx="9"/><text class="t" x="9" y="14">TimeSlot</text><use href="#ch" x="130" y="11"/><text class="s" x="9" y="30">Class</text><use href="#tri" x="14" y="66"/><text class="m" x="25" y="66">Properties</text><use href="#wr" x="29" y="87"/><text class="m" x="46" y="87">Activity_Id</text><use href="#wr" x="29" y="105.500"/><text class="m" x="46" y="105.500">EndTime</text><use href="#wr" x="29" y="124"/><text class="m" x="46" y="124">FreeSeats</text><use href="#wr" x="29" y="142.500"/><text class="m" x="46" y="142.500">Hall</text><use href="#wr" x="29" y="161"/><text class="m" x="46" y="161">StartTime</text><use href="#wr" x="29" y="179.500"/><text class="m" x="46" y="179.500">TotalSeats</text></g>
<g id="Activity" transform="translate(3322,658)"><rect class="sh" x="5" y="4" width="144" height="180" rx="9"/><rect class="b" width="144" height="180" rx="9"/><use href="#hn" class="hc"/><rect class="bc" y="54" width="144" height="24"/><rect class="e" width="144" height="180" rx="9"/><text class="t" x="9" y="14">Activity</text><use href="#ch" x="130" y="11"/><text class="s" x="9" y="30">Class</text><use href="#tri" x="14" y="66"/><text class="m" x="25" y="66">Properties</text><use href="#wr" x="29" y="87"/><text class="m" x="46" y="87">Id</text><use href="#wr" x="29" y="105.500"/><text class="m" x="46" y="105.500">Location_Id</text><use href="#wr" x="29" y="124"/><text class="m" x="46" y="124">Name</text><use href="#wr" x="29" y="142.500"/><text class="m" x="46" y="142.500">Rating</text><use href="#wr" x="29" y="161"/><text class="m" x="46" y="161">Type</text></g>
<g id="Cuisine" transform="translate(3587,658)"><rect class="sh" x="5" y="4" width="144" height="124" rx="9"/><rect class="b" width="144" height="124" rx="9"/><use href="#hn" class="hc"/><rect class="bc" y="54" width="144" height="24"/><rect class="e" width="144" height="124" rx="9"/><text class="t" x="9" y="14">Cuisine</text><use href="#ch" x="130" y="11"/><text class="s" x="9" y="30">Class</text><use href="#tri" x="14" y="66"/><text class="m" x="25" y="66">Properties</text><use href="#wr" x="29" y="87"/><text class="m" x="46" y="87">Id</text><use href="#wr" x="29" y="105.500"/><text class="m" x="46" y="105.500">Name</text></g>

<g id="EmployeeType" transform="translate(2531,898)"><rect class="sh" x="5" y="5" width="144" height="100"/><rect class="b" width="144" height="100"/><rect class="he" width="144" height="54"/><rect class="st" y="54" width="14" height="46"/><rect class="en" width="144" height="100"/><text class="t" x="9" y="14">EmployeeType</text><use href="#ch" x="130" y="11"/><text class="s" x="9" y="30">Enum</text><text class="m" x="19" y="64">contentManager</text><text class="m" x="19" y="82">salesManager</text></g>
<g id="EventType" transform="translate(2698.5,898)"><rect class="sh" x="5" y="5" width="144" height="137"/><rect class="b" width="144" height="137"/><rect class="he" width="144" height="54"/><rect class="st" y="54" width="14" height="83"/><rect class="en" width="144" height="137"/><text class="t" x="9" y="14">EventType</text><use href="#ch" x="130" y="11"/><text class="s" x="9" y="30">Enum</text><text class="m" x="19" y="64">Jazz</text><text class="m" x="19" y="82">Dinner</text><text class="m" x="19" y="100">Historic</text><text class="m" x="19" y="119">Talking</text></g>
<g id="Language" transform="translate(2866,898)"><rect class="sh" x="5" y="5" width="144" height="100"/><rect class="b" width="144" height="100"/><rect class="he" width="144" height="54"/><rect class="st" y="54" width="14" height="46"/><rect class="en" width="144" height="100"/><text class="t" x="9" y="14">Language</text><use href="#ch" x="130" y="11"/><text class="s" x="9" y="30">Enum</text><text class="m" x="19" y="64">Ned</text><text class="m" x="19" y="82">Eng</text></g>
<g id="PaymentMethod" transform="translate(3034,898)"><rect class="sh" x="5" y="5" width="144" height="137"/><rect class="b" width="144" height="137"/><rect class="he" width="144" height="54"/><rect class="st" y="54" width="14" height="83"/><rect class="en" width="144" height="137"/><text class="t" x="9" y="14">PaymentMethod</text><use href="#ch" x="130" y="11"/><text class="s" x="9" y="30">Enum</text><text class="m" x="19" y="64">cash</text><text class="m" x="19" y="82">pin</text><text class="m" x="19" y="100">paypal</text><text class="m" x="19" y="119">visa</text></g>
<g id="TicketType" transform="translate(3202.5,898)"><rect class="sh" x="5" y="5" width="144" height="192"/><rect class="b" width="144" height="192"/><rect class="he" width="144" height="54"/><rect class="st" y="54" width="14" height="138"/><rect class="en" width="144" height="192"/><text class="t" x="9" y="14">TicketType</text><use href="#ch" x="130" y="11"/><text class="s" x="9" y="30">Enum</text><text class="m" x="19" y="64">Single</text><text class="m" x="19" y="82">Group</text><text class="m" x="19" y="100">Child</text><text class="m" x="19" y="119">free</text><text class="m" x="19" y="137">DayPasspartout</text><text class="m" x="19" y="156">WeekPasspartout</text><text class="m" x="19" y="174">PasspartoutFree</text></g>
</g>
<g id="labels">
<use href="#fd" x="168" y="547"/><text class="l" x="184" y="547">questionRepository</text>
<use href="#fd" x="353" y="547"/><text class="l" x="368" y="547">cuisineRepository</text>
<use href="#fd" x="532" y="547"/><text class="l" x="548" y="548">pageRepository</text>
<use href="#fd" x="687" y="547"/><text class="l" x="703" y="547">activityRepository</text>
<use href="#fd" x="868" y="543"/><text class="l" x="885" y="543">orderRepository</text>
<use href="#fd" x="1023" y="543"/><text class="l" x="1039" y="543">accountRepository</text>
<rect x="526" y="666" width="124" height="19" fill="#fff"/>
<use href="#fd" x="537" y="673"/><text class="l" x="553" y="675">pageRepository</text>
<use href="#fd" x="1790" y="515"/><text class="l" x="1806" y="515">db</text>
<use href="#fd" x="1792" y="554"/><text class="l" x="1811" y="555">db</text>
<use href="#wr" x="1844" y="172"/><text class="l" x="1860" y="172">Questions</text>
<use href="#wr" x="2298" y="196"/><text class="l" x="2314" y="196">Pages</text>
<use href="#wr" x="2395" y="191"/><text class="l" x="2411" y="191">Page</text>
<use href="#wr" x="2232" y="407"/><text class="l" x="2247" y="407">PageDescriptions</text>
<use href="#wr" x="2590" y="411"/><text class="l" x="2605" y="411">ActivityDescriptions</text>
<use href="#wr" x="2841" y="404"/><text class="l" x="2857" y="404">ActivityDescriptions</text>
<use href="#wr" x="3282" y="475"/><text class="l" x="3297.500" y="475">Location</text>
<use href="#wr" x="3417" y="480"/><text class="l" x="3433" y="480">Locations</text>
<use href="#wr" x="1825" y="663"/><text class="l" x="1841" y="663">Accounts</text>
<use href="#wr" x="1720" y="951"/><text class="l" x="1737" y="951">Employees</text>
<use href="#wr" x="2045" y="951"/><text class="l" x="2061" y="951">Customers</text>
<use href="#wr" x="2163.500" y="973"/><text class="l" x="2179.500" y="973">Customer</text>
<use href="#wr" x="2305.500" y="639"/><text class="l" x="2321.500" y="639">Orders</text>
<use href="#wr" x="2537" y="643"/><text class="l" x="2552.500" y="643">OrderHasTickets</text>
<use href="#wr" x="2411" y="667"/><text class="l" x="2427" y="667">OrderHasTickets</text>
<use href="#wr" x="2403" y="697"/><text class="l" x="2419" y="697">Order</text>
<use href="#wr" x="2756" y="667"/><text class="l" x="2772" y="667">Ticket</text>
<use href="#wr" x="2691.500" y="697"/><text class="l" x="2707" y="697">OrderHasTickets</text>
<use href="#wr" x="2881" y="639"/><text class="l" x="2897" y="639">Tickets</text>
<use href="#wr" x="2985" y="663"/><text class="l" x="3001" y="663">TimeSlot</text>
<use href="#wr" x="2979.500" y="697"/><text class="l" x="2995" y="697">Tickets</text>
<use href="#wr" x="3101" y="643"/><text class="l" x="3117" y="643">TimeSlots</text>
<use href="#wr" x="3266" y="636"/><text class="l" x="3282" y="636">Activity</text>
<use href="#wr" x="3257" y="662"/><text class="l" x="3272.500" y="662">Activity</text>
<use href="#wr" x="3214.500" y="693"/><text class="l" x="3230.500" y="693">Timeslots</text>
<use href="#wr" x="3380" y="639"/><text class="l" x="3396" y="639">Activities</text>
<use href="#wr" x="3511.500" y="661"/><text class="l" x="3527.500" y="661">Cuisines</text>
<use href="#wr" x="3479" y="693"/><text class="l" x="3494" y="693">Activities</text>
<use href="#wr" x="3637.500" y="643"/><text class="l" x="3653" y="643">Cuisines</text>
</g>
</svg>
